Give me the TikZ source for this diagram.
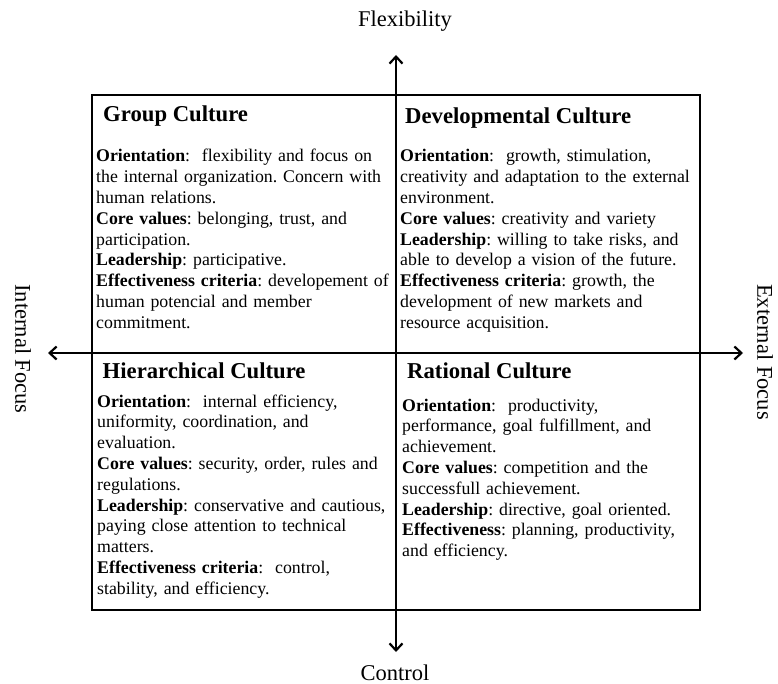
\documentclass[tikz,border=0pt]{standalone}
\usepackage{fontspec}
\setmainfont{Liberation Serif}
\usetikzlibrary{arrows.meta}
\frenchspacing
\begin{document}
\begin{tikzpicture}[x=1pt,y=-1pt,
  quad/.style={draw, line width=2pt, inner sep=0pt, outer sep=0pt,
    minimum width=304pt, minimum height=258pt, anchor=north west},
  qtitle/.style={anchor=base west, inner sep=0pt,
    font=\fontsize{22.7}{26}\selectfont\bfseries},
  qbody/.style={anchor=base west, inner sep=0pt, text width=320pt, align=left,
    font=\fontsize{17.8}{20.8}\selectfont},
  axislabel/.style={inner sep=0pt, font=\fontsize{22.5}{26}\selectfont},
  axisline/.style={line width=2.2pt,
    {Straight Barb[length=7pt,width=13pt]}-{Straight Barb[length=7pt,width=13pt]}}]
\useasboundingbox (0,0) rectangle (778,684);

% quadrant frames
\node[quad] (gq) at (92,95) {};
\node[quad] (dq) at (396,95) {};
\node[quad, minimum height=257pt] (hq) at (92,353) {};
\node[quad, minimum height=257pt] (rq) at (396,353) {};

% axes
\coordinate (N) at (396,55);
\coordinate (S) at (396,652);
\coordinate (W) at (48,353);
\coordinate (E) at (743,353);
\draw[axisline] (S) -- (N);
\draw[axisline] (W) -- (E);

% axis labels
\node[axislabel, anchor=base] (flex) at (405,27) {Flexibility};
\node[axislabel, anchor=base] (ctrl) at (395,680) {Control};
\node[axislabel, rotate=-90] (intf) at (23,349) {Internal Focus};
\node[axislabel, rotate=-90] (extf) at (765,352) {External Focus};

% Group Culture
\node[qtitle] (gt) at (103,122) {Group Culture};
\node[qbody] (gb) at (96,162) {%
\textbf{Orientation}:~ flexibility and focus on\\
the internal organization. Concern with\\
human relations.\\
\textbf{Core values}: belonging, trust, and\\
participation.\\
\textbf{Leadership}: participative.\\
\textbf{Effectiveness criteria}: developement of\\
human potencial and member\\
commitment.};

% Developmental Culture
\node[qtitle] (dt) at (405,124) {Developmental Culture};
\node[qbody] (db) at (400,162) {%
\textbf{Orientation}:~ growth, stimulation,\\
creativity and adaptation to the external\\
environment.\\
\textbf{Core values}: creativity and variety\\
\textbf{Leadership}: willing to take risks, and\\
able to develop a vision of the future.\\
\textbf{Effectiveness criteria}: growth, the\\
development of new markets and\\
resource acquisition.};

% Hierarchical Culture
\node[qtitle] (ht) at (102.5,378) {Hierarchical Culture};
\node[qbody] (hb) at (97,407) {%
\textbf{Orientation}:~ internal efficiency,\\
uniformity, coordination, and\\
evaluation.\\
\textbf{Core values}: security, order, rules and\\
regulations.\\
\textbf{Leadership}: conservative and cautious,\\
paying close attention to technical\\
matters.\\
\textbf{Effectiveness criteria}:~ control,\\
stability, and efficiency.};

% Rational Culture
\node[qtitle] (rt) at (407,378) {Rational Culture};
\node[qbody] (rb) at (402,411) {%
\textbf{Orientation}:~ productivity,\\
performance, goal fulfillment, and\\
achievement.\\
\textbf{Core values}: competition and the\\
successfull achievement.\\
\textbf{Leadership}: directive, goal oriented.\\
\textbf{Effectiveness}: planning, productivity,\\
and efficiency.};
\end{tikzpicture}
\end{document}
